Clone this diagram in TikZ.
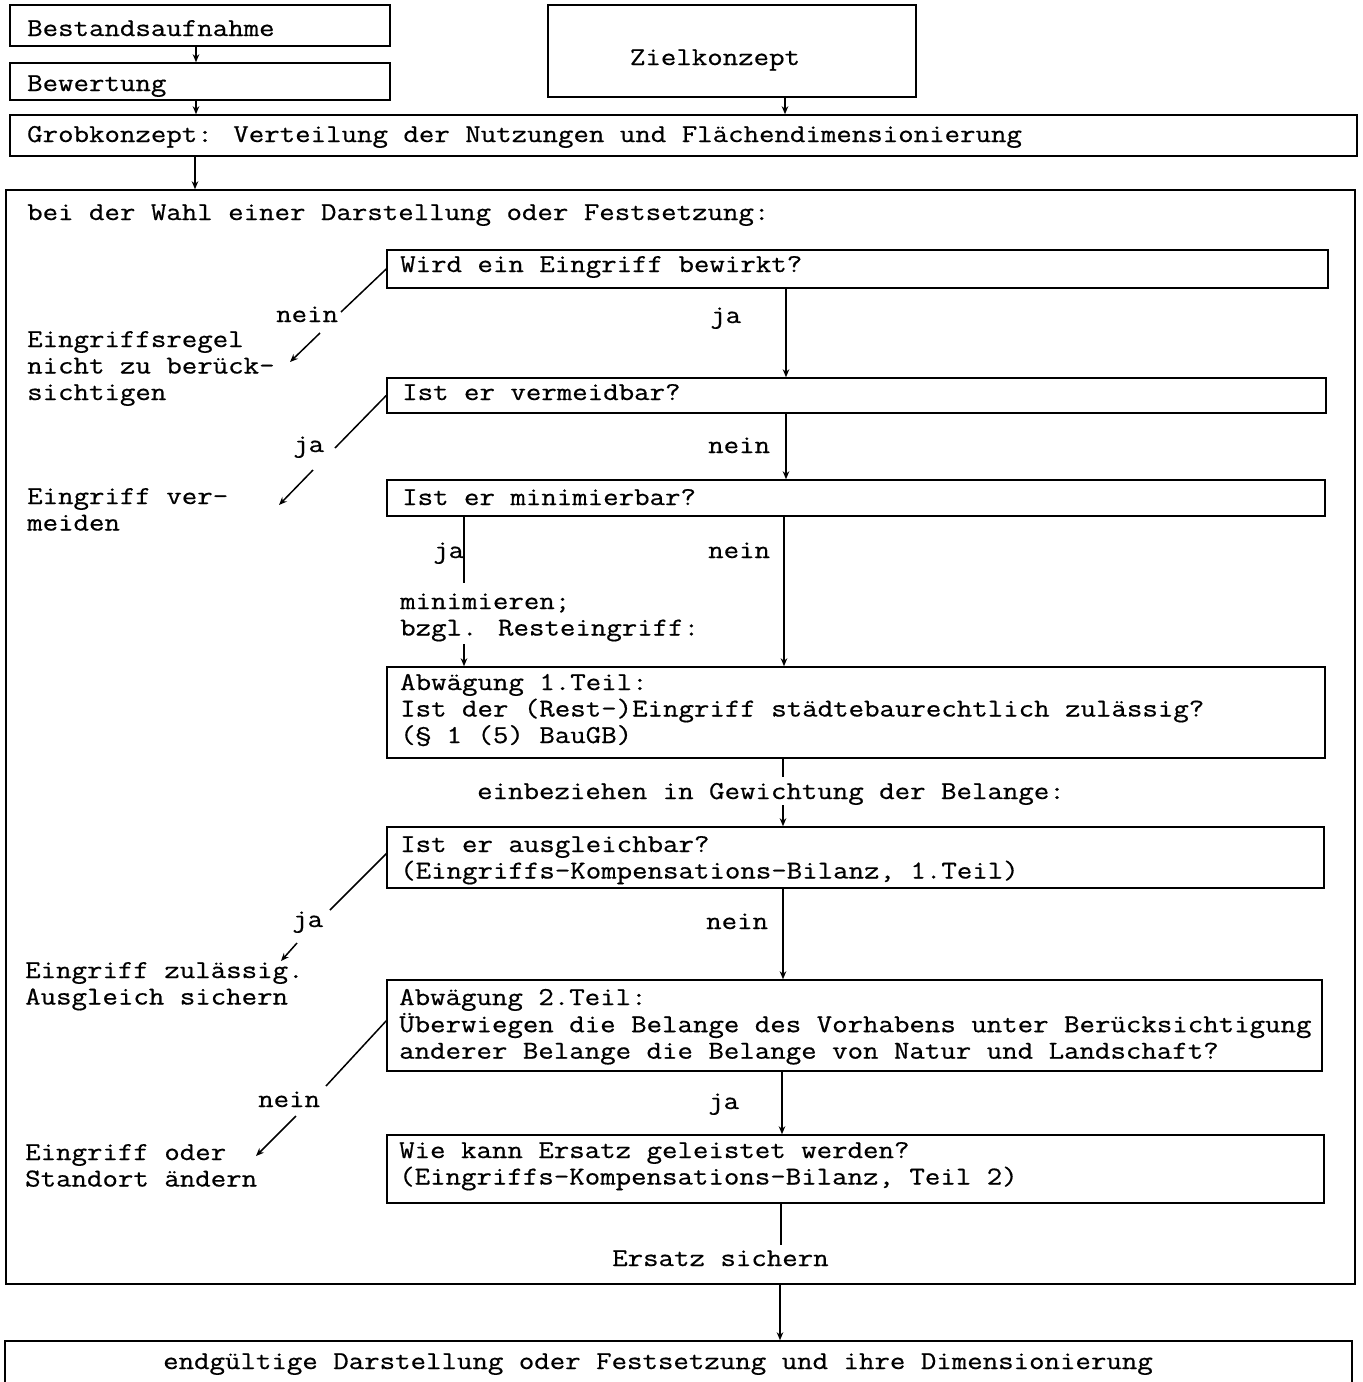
\documentclass[tikz,border=0pt]{standalone}
\usepackage{fontspec}
\setmainfont[FakeStretch=1.166,FakeBold=0.6]{Latin Modern Mono}
\usetikzlibrary{fit,arrows.meta}
\newcommand\mlines[1]{\begin{tabular}[t]{@{}l@{}}#1\end{tabular}}
\begin{document}
\begin{tikzpicture}[x=1pt,y=-1pt,
  box/.style={draw, line width=1.5pt, inner sep=0pt, rectangle},
  txt/.style={inner sep=0pt, anchor=base west, font=\fontsize{25.75pt}{26.5pt}\selectfont},
  conn/.style={line width=1.5pt},
  arr/.style={line width=1.5pt, -{Stealth[length=8pt,width=6.5pt]}}]
\useasboundingbox (0,0) rectangle (1363,1382);
\clip (0,0) rectangle (1363,1382);

% x positions of vertical connectors
\coordinate (xa) at (196,0);
\coordinate (xz) at (785,0);
\coordinate (xg) at (195,0);
\coordinate (x1) at (786,0);
\coordinate (x3n) at (784,0);
\coordinate (x3j) at (464,0);
\coordinate (x4) at (783,0);
\coordinate (x6) at (782,0);
\coordinate (x7) at (781,0);
\coordinate (xe) at (780,0);

% top boxes
\node[box, fit={(10,5)(390,46)}] (b1) {};
\node[txt] (t1) at (27,36) {Bestandsaufnahme};
\node[box, fit={(10,63)(390,100)}] (b2) {};
\node[txt] (t2) at (27,91) {Bewertung};
\node[box, fit={(548,5)(916,97)}] (ziel) {};
\node[txt, anchor=base] (tz) at (715,65) {Zielkonzept};
\node[box, fit={(10,115)(1357,156)}] (grob) {};
\node[txt] (tg) at (27,142) {Grobkonzept: Verteilung der Nutzungen und Flächendimensionierung};

% big frame
\node[box, fit={(6,190)(1355,1284)}] (big) {};
\node[txt] (tbig) at (27,220) {bei der Wahl einer Darstellung oder Festsetzung:};

% question boxes
\node[box, fit={(387,250)(1328,288)}] (q1) {};
\node[txt] (tq1) at (400,272) {Wird ein Eingriff bewirkt?};
\node[box, fit={(387,378)(1326,413)}] (q2) {};
\node[txt] (tq2) at (402,400) {Ist er vermeidbar?};
\node[box, fit={(387,480)(1325,516)}] (q3) {};
\node[txt] (tq3) at (402,505) {Ist er minimierbar?};
\node[box, fit={(387,667)(1325,758)}] (q4) {};
\node[txt] (tq4) at (400,690) {\mlines{Abwägung 1.Teil:\\Ist der (Rest-)Eingriff städtebaurechtlich zulässig?\\(§ 1 (5) BauGB)}};
\node[box, fit={(387,827)(1324,888)}] (q5) {};
\node[txt] (tq5) at (400,852) {\mlines{Ist er ausgleichbar?\\(Eingriffs-Kompensations-Bilanz, 1.Teil)}};
\node[box, fit={(387,980)(1322,1071)}] (q6) {};
\node[txt] (tq6) at (399,1005) {\mlines{Abwägung 2.Teil:\\Überwiegen die Belange des Vorhabens unter Berücksichtigung\\anderer Belange die Belange von Natur und Landschaft?}};
\node[box, fit={(387,1135)(1324,1203)}] (q7) {};
\node[txt] (tq7) at (399,1158) {\mlines{Wie kann Ersatz geleistet werden?\\(Eingriffs-Kompensations-Bilanz, Teil 2)}};

% final box
\node[box, fit={(5,1341)(1352,1400)}] (fin) {};
\node[txt] (tfin) at (163,1369) {endgültige Darstellung oder Festsetzung und ihre Dimensionierung};

% side texts
\node[txt] (s1) at (27,347) {\mlines{Eingriffsregel\\nicht zu berück-\\sichtigen}};
\node[txt] (s2) at (27,504) {\mlines{Eingriff ver-\\meiden}};
\node[txt] (s3) at (25,978) {\mlines{Eingriff zulässig.\\Ausgleich sichern}};
\node[txt] (s4) at (25,1160) {\mlines{Eingriff oder\\Standort ändern}};

% labels
\node[txt] (l1n) at (276,322) {nein};
\node[txt] (l1j) at (710,323) {ja};
\node[txt] (l2j) at (293,452) {ja};
\node[txt] (l2n) at (708,453) {nein};
\node[txt] (l3j) at (433,558) {ja};
\node[txt] (l3n) at (708,558) {nein};
\node[txt] (lmin) at (400,609) {\mlines{minimieren;\\bzgl. Resteingriff:}};
\node[txt] (lein) at (477,799) {einbeziehen in Gewichtung der Belange:};
\node[txt] (l5j) at (292,927) {ja};
\node[txt] (l5n) at (706,929) {nein};
\node[txt] (l6n) at (258,1107) {nein};
\node[txt] (l6j) at (708,1109) {ja};
\node[txt] (lers) at (612,1266) {Ersatz sichern};

% top connectors
\draw[arr] (b1.south -| xa) -- (b2.north -| xa);
\draw[arr] (b2.south -| xa) -- (grob.north -| xa);
\draw[arr] (ziel.south -| xz) -- (grob.north -| xz);
\draw[arr] (grob.south -| xg) -- (big.north -| xg);

% main vertical flow
\draw[arr] (q1.south -| x1) -- (q2.north -| x1);
\draw[arr] (q2.south -| x1) -- (q3.north -| x1);
\draw[arr] (q3.south -| x3n) -- (q4.north -| x3n);
\coordinate (m1) at (464,583);
\coordinate (m2) at (464,644);
\draw[conn] (q3.south -| x3j) -- (m1);
\draw[arr] (m2) -- (q4.north -| x3j);
\coordinate (e1) at (783,777);
\coordinate (e2) at (783,805);
\draw[conn] (q4.south -| x4) -- (e1);
\draw[arr] (e2) -- (q5.north -| x4);
\draw[arr] (q5.south -| x4) -- (q6.north -| x4);
\draw[arr] (q6.south -| x6) -- (q7.north -| x6);
\coordinate (r1) at (781,1245);
\draw[conn] (q7.south -| x7) -- (r1);
\draw[arr] (big.south -| xe) -- (fin.north -| xe);

% diagonal side connectors
\coordinate (d1a) at (341,312);
\coordinate (d1b) at (320,333);
\coordinate (d1c) at (290,362);
\draw[conn] (q1.west) -- (d1a);
\draw[arr] (d1b) -- (d1c);

\coordinate (d2a) at (335,448);
\coordinate (d2b) at (313,470);
\coordinate (d2c) at (279,505);
\draw[conn] (q2.west) -- (d2a);
\draw[arr] (d2b) -- (d2c);

\coordinate (d5s) at (387,853);
\coordinate (d5a) at (330,910);
\coordinate (d5b) at (297,943);
\coordinate (d5c) at (281,961);
\draw[conn] (d5s) -- (d5a);
\draw[arr] (d5b) -- (d5c);

\coordinate (d6s) at (387,1020);
\coordinate (d6a) at (326,1086);
\coordinate (d6b) at (296,1116);
\coordinate (d6c) at (256,1156);
\draw[conn] (d6s) -- (d6a);
\draw[arr] (d6b) -- (d6c);
\end{tikzpicture}
\end{document}
